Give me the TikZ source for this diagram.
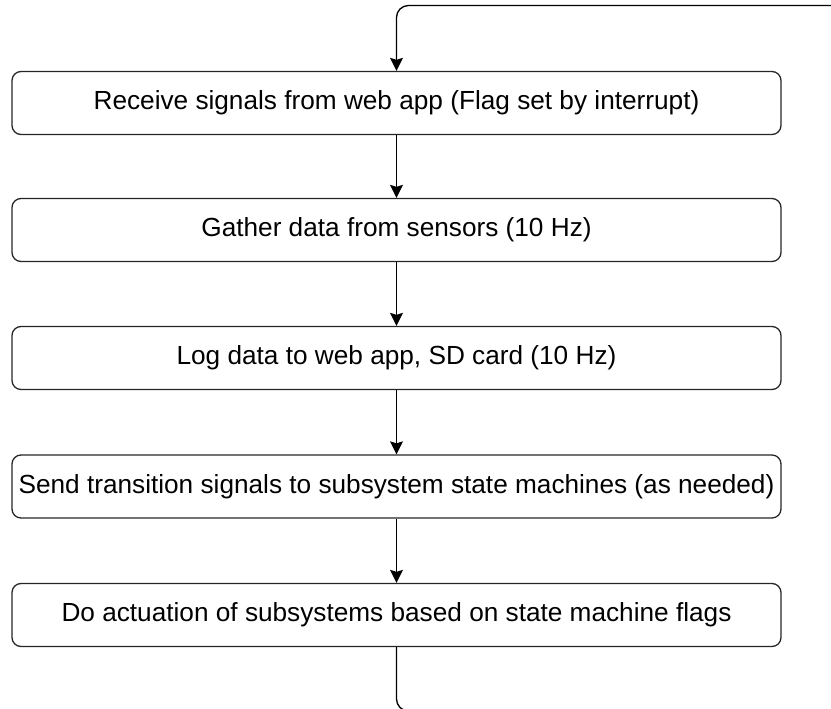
\documentclass[tikz,border=0pt]{standalone}
\usepackage{fontspec}
\setmainfont{Liberation Sans}
\usetikzlibrary{arrows.meta}
\tikzset{
  stepbox/.style={draw=black!85, line width=1.3pt, rounded corners=9pt,
    minimum width=769pt, minimum height=63pt, inner sep=0pt,
    font=\fontsize{26.2}{30}\selectfont},
  flow/.style={draw=black, line width=1.3pt,
    -{Stealth[length=13pt,width=13pt,inset=2pt]}},
}
\begin{document}
\begin{tikzpicture}[x=1pt,y=-1pt]
\useasboundingbox (0,0) rectangle (831,709);
\clip (0,0) rectangle (831,709);
\node[stepbox] (n1) at (396.5,103) {Receive signals from web app (Flag set by interrupt)};
\node[stepbox] (n2) at (396.5,230) {Gather data from sensors (10 Hz)};
\node[stepbox] (n3) at (396.5,358) {Log data to web app, SD card (10 Hz)};
\node[stepbox] (n4) at (396.5,486.5) {Send transition signals to subsystem state machines (as needed)};
\node[stepbox] (n5) at (396.5,615) {Do actuation of subsystems based on state machine flags};
\draw[flow] (n1) -- (n2);
\draw[flow] (n2) -- (n3);
\draw[flow] (n3) -- (n4);
\draw[flow] (n4) -- (n5);
\draw[flow, rounded corners=12pt] (n5.south) -- (396.5,711) -- (860,711) -- (860,5.5) -- (396.5,5.5) -- (n1.north);
\end{tikzpicture}
\end{document}
